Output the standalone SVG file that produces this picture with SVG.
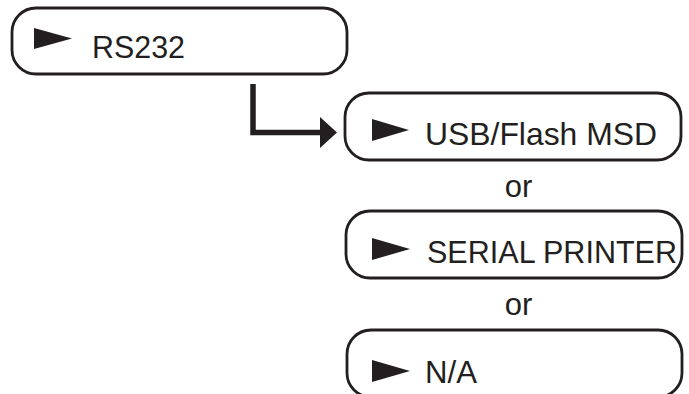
<svg xmlns="http://www.w3.org/2000/svg" width="689" height="394" viewBox="0 0 689 394">
<style>
.box{fill:#fff;stroke:#231f20;stroke-width:2.8}
.tri{fill:#231f20}
.lbl{font-family:"Liberation Sans",Arial,sans-serif;font-size:32px;fill:#231f20}
.or{font-family:"Liberation Sans",Arial,sans-serif;font-size:31px;fill:#231f20;text-anchor:middle}
.conn{fill:none;stroke:#231f20;stroke-width:5.5}
</style>
<rect width="689" height="394" fill="#fff"/>
<g id="connectors">
<path class="conn" d="M253,84 V132.5 H323"/>
<polygon class="tri" points="320,117 337,132.5 320,148"/>
</g>
<g id="rs232">
<rect class="box" x="12" y="8" width="335" height="66" rx="24"/>
<polygon class="tri" points="34,28 72,38.5 34,49"/>
<text class="lbl" x="92" y="58" textLength="93" lengthAdjust="spacingAndGlyphs">RS232</text>
</g>
<g id="usb">
<rect class="box" x="345" y="93" width="336" height="67" rx="24"/>
<polygon class="tri" points="372,119 409,130 372,141"/>
<text class="lbl" x="425" y="145" textLength="232" lengthAdjust="spacingAndGlyphs">USB/Flash MSD</text>
</g>
<text class="or" x="518.5" y="197">or</text>
<g id="serial">
<rect class="box" x="346" y="211" width="336" height="67" rx="24"/>
<polygon class="tri" points="372,238 410,249 372,260"/>
<text class="lbl" x="427" y="263" textLength="250" lengthAdjust="spacingAndGlyphs">SERIAL PRINTER</text>
</g>
<text class="or" x="518.5" y="315">or</text>
<g id="na">
<rect class="box" x="347" y="330" width="335" height="67" rx="24"/>
<polygon class="tri" points="372,360 410,371 372,382"/>
<text class="lbl" x="425" y="383" textLength="52" lengthAdjust="spacingAndGlyphs">N/A</text>
</g>
</svg>
